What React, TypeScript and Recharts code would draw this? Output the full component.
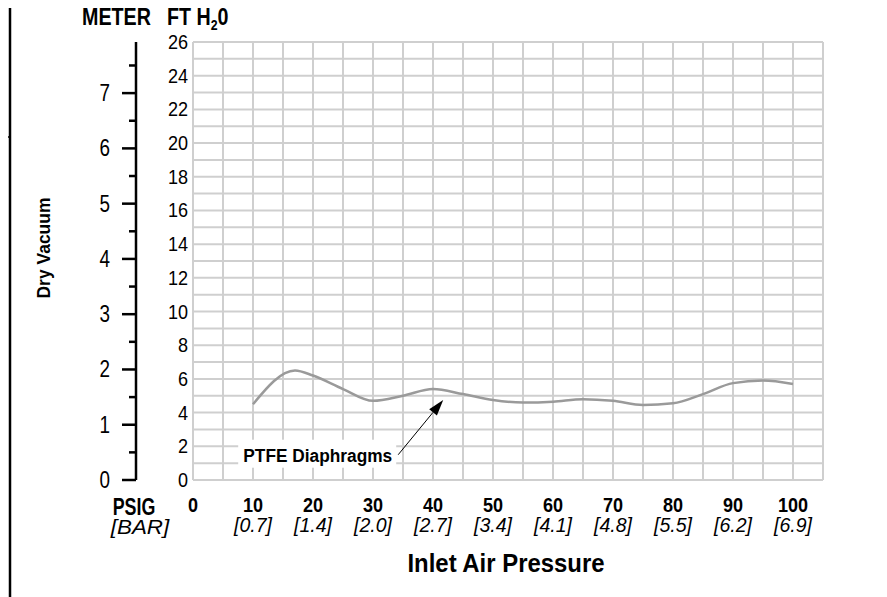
import {
  LineChart,
  Line,
  XAxis,
  YAxis,
  CartesianGrid,
  ReferenceLine,
} from "recharts";

const FONT = "'Liberation Sans', Arial, sans-serif";

// inlet air pressure (psig) and dry vacuum (ft H2O)
const psig = [10, 17, 20, 25, 30, 35, 40, 45, 50, 55, 60, 65, 70, 75, 80, 85, 90, 95, 100];
const vacuumFt = [4.5, 6.5, 6.2, 5.4, 4.7, 5.0, 5.4, 5.1, 4.75, 4.6, 4.65, 4.8, 4.7, 4.45, 4.55, 5.1, 5.75, 5.9, 5.7];

const psigTicks = [0, 10, 20, 30, 40, 50, 60, 70, 80, 90, 100];
const barLabels = ["", "[0.7]", "[1.4]", "[2.0]", "[2.7]", "[3.4]", "[4.1]", "[4.8]", "[5.5]", "[6.2]", "[6.9]"];
const ftTicks = [0, 2, 4, 6, 8, 10, 12, 14, 16, 18, 20, 22, 24, 26];
const meterTicks = [0, 0.5, 1, 1.5, 2, 2.5, 3, 3.5, 4, 4.5, 5, 5.5, 6, 6.5, 7, 7.5];
const gridX = [0, 5, 10, 15, 20, 25, 30, 35, 40, 45, 50, 55, 60, 65, 70, 75, 80, 85, 90, 95, 100, 105];
const gridY = [0, 1, 2, 3, 4, 5, 6, 7, 8, 9, 10, 11, 12, 13, 14, 15, 16, 17, 18, 19, 20, 21, 22, 23, 24, 25, 26];

// arrow from the label to the curve
const arrowFrom = { x: 34.2, y: 1.5 };
const arrowTo = { x: 41.7, y: 4.75 };
const annotation = "PTFE Diaphragms";

const data = psig.map((p, i) => ({ psig: p, ft: vacuumFt[i] }));

// condensed-looking text: Liberation Sans squeezed horizontally
const T = ({ x, y, size, bold, italic, anchor = "start", sx = 0.88, rot, children }: any) => (
  <text
    transform={`translate(${x},${y})${rot ? ` rotate(${rot})` : ""} scale(${sx},1)`}
    textAnchor={anchor}
    fontFamily={FONT}
    fontSize={size}
    fontWeight={bold ? "bold" : "normal"}
    fontStyle={italic ? "italic" : "normal"}
    fill="#000"
  >
    {children}
  </text>
);

const FtTick = (props: any) => {
  const { x, y, payload } = props;
  return (
    <T x={x - 5} y={y + 7} size={21} anchor="end" sx={0.86}>
      {payload.value}
    </T>
  );
};

const MeterTick = (props: any) => {
  const { x, y, payload } = props;
  const major = Number.isInteger(payload.value);
  return (
    <g>
      <line x1={x - (major ? 14 : 7)} y1={y} x2={x} y2={y} stroke="#000" strokeWidth={2.5} />
      {major && (
        <T x={x - 26} y={y + 8} size={23} anchor="end" sx={0.82}>
          {payload.value}
        </T>
      )}
    </g>
  );
};

const PsigTick = (props: any) => {
  const { x, y, payload, index } = props;
  return (
    <g>
      <T x={x} y={y + 32} size={21} bold anchor="middle" sx={0.86}>
        {payload.value}
      </T>
      <T x={x} y={y + 52} size={19.5} italic anchor="middle" sx={1}>
        {barLabels[index]}
      </T>
    </g>
  );
};

const XLabel = (props: any) => {
  const { viewBox } = props;
  const { x, y, width } = viewBox;
  return (
    <g>
      <T x={x - 59} y={y + 35} size={23.5} bold anchor="middle" sx={0.76}>
        PSIG
      </T>
      <T x={x - 53} y={y + 54} size={20} italic anchor="middle" sx={1.12}>
        [BAR]
      </T>
      <T x={x + width / 2 - 2} y={y + 92} size={26} bold anchor="middle" sx={0.92}>
        Inlet Air Pressure
      </T>
    </g>
  );
};

const HeaderLabel = (props: any) => {
  const { viewBox } = props;
  const left = viewBox.x + viewBox.width;
  return (
    <g>
      <T x={left - 111} y={25} size={24} bold sx={0.82}>
        METER
      </T>
      <T x={left - 26} y={25} size={24} bold sx={0.82}>
        FT H<tspan fontSize={15} dy={5}>2</tspan>
        <tspan dy={-5}>0</tspan>
      </T>
    </g>
  );
};

const MeterLabel = (props: any) => {
  const { viewBox } = props;
  const cy = viewBox.y + viewBox.height / 2 - 13;
  return (
    <g>
      <line x1={10} y1={0} x2={10} y2={597} stroke="#000" strokeWidth={2.5} />
      <line x1={0} y1={137} x2={10} y2={137} stroke="#000" strokeWidth={1.5} />
      <T x={50} y={cy} rot={-90} size={19} bold anchor="middle" sx={0.92}>
        Dry Vacuum
      </T>
    </g>
  );
};

const ArrowShape = (props: any) => {
  const { x1, y1, x2, y2 } = props;
  const ang = Math.atan2(y2 - y1, x2 - x1);
  const len = 16;
  const hw = 5;
  const bx = x2 - len * Math.cos(ang);
  const by = y2 - len * Math.sin(ang);
  const px = -Math.sin(ang) * hw;
  const py = Math.cos(ang) * hw;
  return (
    <g>
      <rect x={x1 - 160} y={y1 - 15} width={158} height={28} fill="#fff" />
      <T x={x1 - 6} y={y1 + 7} size={19} bold anchor="end" sx={0.91}>
        {annotation}
      </T>
      <line x1={x1} y1={y1} x2={bx} y2={by} stroke="#000" strokeWidth={1} />
      <polygon points={`${x2},${y2} ${bx + px},${by + py} ${bx - px},${by - py}`} fill="#000" />
    </g>
  );
};

export default function App() {
  return (
    <div style={{ marginLeft: -8, marginTop: -8, background: "#fff" }}>
      <LineChart
        width={887}
        height={597}
        data={data}
        margin={{ top: 42, right: 64, bottom: 17, left: 0 }}
      >
        <CartesianGrid
          stroke="#cfcfcf"
          strokeWidth={2}
          horizontalValues={gridY}
          verticalValues={gridX}
        />
        <XAxis
          dataKey="psig"
          type="number"
          domain={[0, 105]}
          ticks={psigTicks}
          interval={0}
          axisLine={false}
          tickLine={false}
          tickSize={0}
          tickMargin={0}
          height={100}
          tick={<PsigTick />}
          label={<XLabel />}
        />
        <YAxis
          yAxisId="m"
          type="number"
          domain={[0, 26 * 0.3048]}
          allowDataOverflow
          ticks={meterTicks}
          interval={0}
          width={136}
          tickLine={false}
          tickSize={0}
          tickMargin={0}
          axisLine={{ stroke: "#000", strokeWidth: 2.5 }}
          tick={<MeterTick />}
          label={<MeterLabel />}
        />
        <YAxis
          type="number"
          domain={[0, 26]}
          ticks={ftTicks}
          interval={0}
          width={57}
          axisLine={false}
          tickLine={false}
          tickSize={0}
          tickMargin={0}
          tick={<FtTick />}
          label={<HeaderLabel />}
        />
        <ReferenceLine segment={[arrowFrom, arrowTo]} shape={<ArrowShape />} ifOverflow="visible" />
        {/* keeps the metre axis bound to the data so its ticks render; draws nothing */}
        <Line
          yAxisId="m"
          dataKey="ft"
          stroke="none"
          dot={false}
          activeDot={false}
          legendType="none"
          isAnimationActive={false}
        />
        <Line
          type="monotone"
          dataKey="ft"
          stroke="#9a9a9a"
          strokeWidth={2.5}
          dot={false}
          isAnimationActive={false}
        />
      </LineChart>
    </div>
  );
}
